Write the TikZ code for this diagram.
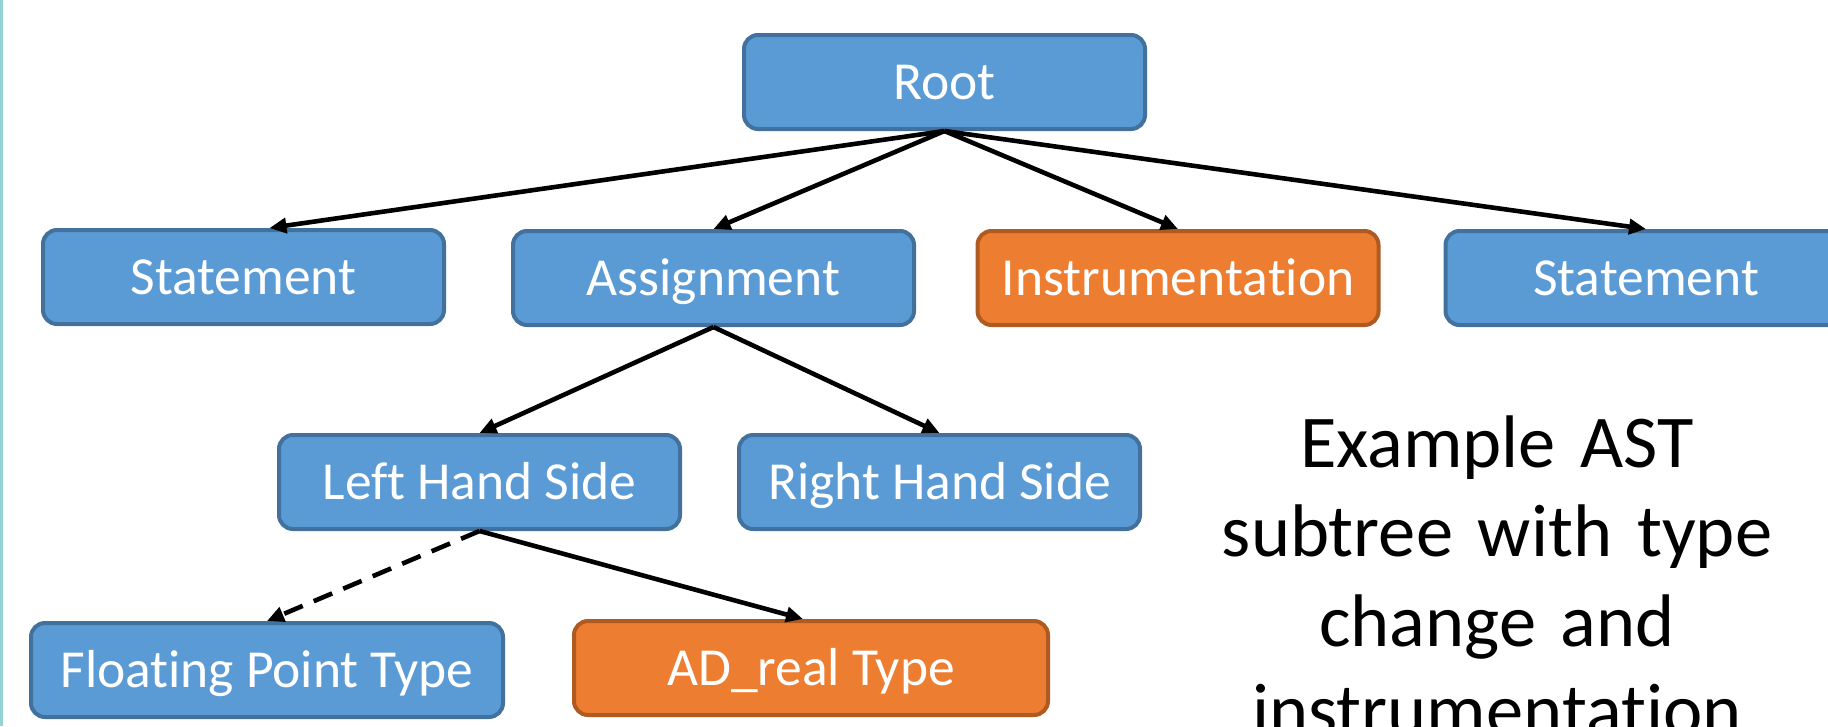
\documentclass[tikz,border=0pt]{standalone}
\usepackage{fontspec}
\setmainfont{Carlito}[Ligatures={NoCommon,NoContextual}, Contextuals=NoAlternate]
\newfontfamily\capfont{Carlito}[Ligatures={NoCommon,NoContextual}, Contextuals=NoAlternate, WordSpace=0.8]
\usetikzlibrary{arrows.meta,calc}
\definecolor{boxblue}{HTML}{5B9BD5}
\definecolor{boxbluedark}{HTML}{41719C}
\definecolor{boxorange}{HTML}{ED7D31}
\definecolor{boxorangedark}{HTML}{AE5A21}
\definecolor{edgecyan}{HTML}{93D3D6}
\begin{document}
\begin{tikzpicture}[x=1pt,y=-1pt,
  astbox/.style={rectangle, rounded corners=14pt, line width=4pt, draw=boxbluedark,
    fill=boxblue, text=white, minimum width=401pt, minimum height=94pt, inner sep=0pt,
    font=\fontsize{53.5}{60}\selectfont, text height=35pt, text depth=0pt},
  instbox/.style={astbox, draw=boxorangedark, fill=boxorange},
  conn/.style={line width=4.6pt, -{Triangle[length=17pt,width=15pt]}},
  captxt/.style={text width=700pt, align=center, anchor=base, inner sep=0pt,
    font=\capfont\fontsize{74.5}{89.5}\selectfont}
]
\useasboundingbox (0,0) rectangle (1828,726);
\clip (0,0) rectangle (1828,726);
\fill[edgecyan] (0,0) rectangle (3,726);

\node[astbox] (root) at (944.5,82) {Root};
\node[astbox] (s1) at (243.5,277) {Statement};
\node[astbox] (asg) at (713.5,278) {Assignment};
\node[instbox] (ins) at (1178,278) {Instrumen\kern0pt tation};
\node[astbox] (s2) at (1646,278) {Statement};
\node[astbox] (lhs) at (479.5,482) {Left Hand Side};
\node[astbox] (rhs) at (939.5,482) {Right Hand Side};
\node[astbox, minimum width=472pt] (fpt) at (267,670) {Floating Point Type};
\node[instbox, minimum width=474pt] (ad) at (811,668) {AD\_real Type};

\node[captxt] (cap) at (1497,467) {Example AST\\ subtree with type\\ change and\\ instrumen\kern0pt tation};

\draw[conn] (root.south) -- ($(s1.north)+(26,0)$);
\draw[conn] (root.south) -- (asg.north);
\draw[conn] (root.south) -- (ins.north);
\draw[conn] (root.south) -- (s2.north);
\draw[conn] (asg.south) -- (lhs.north);
\draw[conn] (asg.south) -- (rhs.north);
\draw[conn, dash pattern=on 20pt off 12pt] (lhs.south) -- (fpt.north);
\draw[conn] (lhs.south) -- ($(ad.north)+(-8,0)$);
\end{tikzpicture}
\end{document}
